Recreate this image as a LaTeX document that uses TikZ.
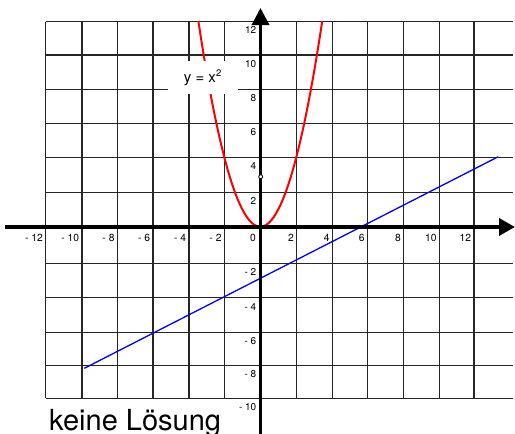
\documentclass[tikz,border=0pt]{standalone}
\usepackage{fontspec}
\setmainfont{TeX Gyre Heros}
\usetikzlibrary{arrows.meta}
\begin{document}
\begin{tikzpicture}[x=1pt,y=-1pt,
  gridline/.style={black!85, line width=1.2pt},
  axisline/.style={black, line width=3.6pt},
  xticklabel/.style={font=\fontsize{10.3}{12}\selectfont, inner sep=0pt, anchor=east},
  yticklabel/.style={font=\fontsize{10}{12}\selectfont, inner sep=0pt, anchor=east},
  curve/.style={red, line width=2pt},
  linegraph/.style={blue, line width=1.3pt},
  bigtext/.style={font=\fontsize{29}{34}\selectfont, inner sep=0pt, anchor=base west}]
\useasboundingbox (0,0) rectangle (515,434);
% grid
\foreach \gx in {45.7,82,117.3,153,189,224.3,296.7,332.3,367.3,403.7,439.3,474}
  \draw[gridline] (\gx,21.7) -- (\gx,398.3);
\foreach \gy in {21.7,55,89.3,123.3,157.7,192.7,263.3,297.8,332.7,365.7,398.3}
  \draw[gridline] (45.7,\gy) -- (513,\gy);
% parabola
\begin{scope}[shift={(260.3pt,-226.7pt)}, x=17.85pt, y=17.08pt]
  \draw[curve, domain=-3.47:3.47, samples=120, smooth] plot (\x,{\x*\x});
\end{scope}
% straight line
\coordinate (ls) at (84.3,368.3);
\coordinate (le) at (498.3,156.7);
\draw[linegraph] (ls) -- (le);
% label box
\node[fill=white, minimum width=70pt, minimum height=33pt, inner sep=0pt,
      font=\fontsize{15}{18}\selectfont] (lab) at (202.6,77.5)
      {y = x\raisebox{0.42em}{\fontsize{9.5}{10}\selectfont 2}};
% axes
\coordinate (xs) at (4.5,227);
\coordinate (xe) at (515,227);
\coordinate (ys) at (260.5,434);
\coordinate (ye) at (260.5,8);
\draw[axisline, -{Triangle[length=16pt,width=17pt]}] (xs) -- (xe);
\draw[axisline, -{Triangle[length=17pt,width=17pt]}] (ys) -- (ye);
% x tick labels
\foreach \xx/\t [count=\i] in {45.7/- 12,82/- 10,117.3/- 8,153/- 6,189/- 4,224.3/- 2,258.6/0,296.7/2,332.3/4,367.3/6,403.7/8,439.3/10,474/12}
  \node[xticklabel] (xt\i) at (\xx-2.6,237.5) {\t};
% y tick labels
\foreach \yy/\t [count=\i] in {21.7/12,55/10,89.3/8,123.3/6,157.7/4,192.7/2,263.3/- 2,297.8/- 4,332.7/- 6,365.7/- 8,398.3/- 10}
  \node[yticklabel] (yt\i) at (256.5,\yy+8.7) {\t};
% open point
\node[circle, draw, fill=white, inner sep=0pt, minimum size=4pt, line width=0.8pt] (pt) at (260.7,176.7) {};
% caption
\node[bigtext] (kl) at (49,430) {keine Lösung};
\end{tikzpicture}
\end{document}
